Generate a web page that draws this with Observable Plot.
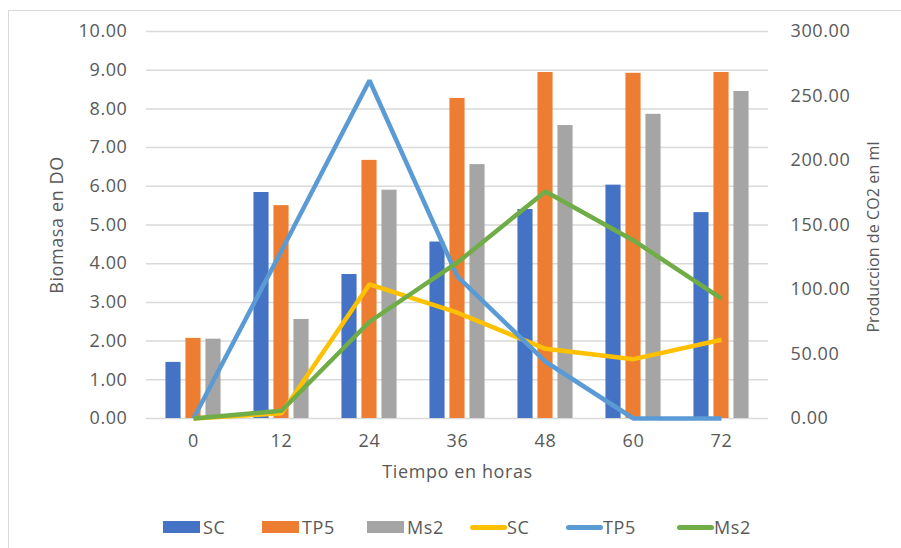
<!DOCTYPE html>
<html>
<head>
<meta charset="utf-8">
<script src="https://cdn.jsdelivr.net/npm/d3@7"></script>
<script src="https://cdn.jsdelivr.net/npm/@observablehq/plot@0.6"></script>
<style>
  html, body { margin: 0; padding: 0; background: #fff; overflow: hidden; }
  body { width: 901px; height: 548px; position: relative; font-family: "Open Sans", sans-serif; }
  #frame { position: absolute; left: 8px; top: 10px; width: 1000px; height: 1000px;
           border-left: 1.5px solid #d9d9d9; border-top: 1.5px solid #d9d9d9; }
  #chart { position: absolute; left: 0; top: 0; }
  #legend { position: absolute; left: 0; top: 515px; width: 901px; height: 24px; }
  .item { position: absolute; top: 0; display: flex; align-items: center; height: 24px;
          color: #595959; font-size: 18px; letter-spacing: 0.6px; }
  .sw { display: inline-block; }
</style>
</head>
<body>
<div id="frame"></div>
<div id="chart"></div>
<div id="legend"></div>
<script>
const hours = [0, 12, 24, 36, 48, 60, 72];
const biomasaSC  = [1.45, 5.84, 3.72, 4.56, 5.40, 6.03, 5.32];
const biomasaTP5 = [2.07, 5.50, 6.67, 8.27, 8.94, 8.92, 8.94];
const biomasaMs2 = [2.05, 2.56, 5.90, 6.56, 7.57, 7.86, 8.45];
const co2SC  = [0, 4, 104, 82, 54, 46, 61];
const co2TP5 = [0, 130, 262, 110, 44, 0, 0];
const co2Ms2 = [0, 6, 75, 121, 176, 138, 93];
const leftTicks = [0, 1, 2, 3, 4, 5, 6, 7, 8, 9, 10];
const rightTicks = [0, 50, 100, 150, 200, 250, 300];
const titleLeft = "Biomasa en DO";
const titleRight = "Produccion de CO2 en ml";
const titleX = "Tiempo en horas";

const barSeries = [
  {name: "SC", values: biomasaSC, color: "#4472C4"},
  {name: "TP5", values: biomasaTP5, color: "#ED7D31"},
  {name: "Ms2", values: biomasaMs2, color: "#A5A5A5"}
];
const lineSeries = [
  {name: "SC", values: co2SC, color: "#FFC000"},
  {name: "TP5", values: co2TP5, color: "#5B9BD5"},
  {name: "Ms2", values: co2Ms2, color: "#70AD47"}
];
const ratio = 30; // right axis max 300 vs left max 10

const W = 901, H = 490, mL = 146, mR = 133, mT = 31, mB = 72;
const band = (W - mL - mR) / hours.length;
const barW = 16, gap = 4, outer = (band - (3 * barW + 2 * gap)) / 2;

const marks = [
  Plot.gridY(leftTicks, {stroke: "#d9d9d9", strokeOpacity: 1, strokeWidth: 1.5})
];
barSeries.forEach((s, i) => {
  const data = hours.map((h, j) => ({h, v: s.values[j]}));
  const l = outer + i * (barW + gap);
  marks.push(Plot.barY(data, {x: "h", y: "v", fill: s.color,
    insetLeft: l, insetRight: band - l - barW}));
});
lineSeries.forEach(s => {
  const data = hours.map((h, j) => ({h, v: s.values[j] / ratio}));
  marks.push(Plot.line(data, {x: "h", y: "v", stroke: s.color, strokeWidth: 4.5,
    strokeLinejoin: "miter", strokeLinecap: "butt"}));
});
marks.push(
  Plot.axisY(leftTicks, {anchor: "left", tickSize: 0, tickPadding: 19,
    tickFormat: d => d.toFixed(2), label: null, fontSize: 18}),
  Plot.axisY(rightTicks.map(d => d / ratio), {anchor: "right", tickSize: 0, tickPadding: 22,
    tickFormat: d => (d * ratio).toFixed(2), label: null, fontSize: 18}),
  Plot.axisX({anchor: "bottom", tickSize: 0, tickPadding: 16, label: null, fontSize: 18}),
  Plot.text([titleLeft], {frameAnchor: "left", text: d => d, rotate: -90, dx: -89,
    textAnchor: "middle", lineAnchor: "middle", fontSize: 18, fill: "#595959"}),
  Plot.text([titleRight], {frameAnchor: "right", text: d => d, rotate: -90, dx: 105, dy: 12,
    textAnchor: "middle", lineAnchor: "middle", fontSize: 16, fill: "#595959", className: "rtitle"}),
  Plot.text([titleX], {frameAnchor: "bottom", text: d => d, dy: 54,
    textAnchor: "middle", lineAnchor: "middle", fontSize: 18, fill: "#595959"})
);

const chart = Plot.plot({
  width: W, height: H,
  marginLeft: mL, marginRight: mR, marginTop: mT, marginBottom: mB,
  style: {fontFamily: "'Open Sans', sans-serif", fontSize: "18px", color: "#595959", background: "transparent"},
  x: {type: "band", domain: hours, padding: 0, label: null},
  y: {domain: [0, 10], label: null},
  marks
});
chart.querySelectorAll("text").forEach(t => t.setAttribute("letter-spacing", "0.6"));
chart.querySelectorAll(".rtitle text").forEach(t => t.setAttribute("letter-spacing", "0.1"));
document.getElementById("chart").appendChild(chart);

// legend
const legend = document.getElementById("legend");
const items = [
  ...barSeries.map(s => ({...s, kind: "bar"})),
  ...lineSeries.map(s => ({...s, kind: "line"}))
];
const positions = [163, 262, 367, 470, 566, 677];
items.forEach((it, i) => {
  const d = document.createElement("div");
  d.className = "item";
  d.style.left = positions[i] + "px";
  const sw = document.createElement("span");
  sw.className = "sw";
  sw.style.width = "37px";
  sw.style.height = it.kind === "bar" ? "12px" : "5px";
  sw.style.borderRadius = it.kind === "bar" ? "0" : "3px";
  sw.style.background = it.color;
  sw.style.marginRight = it.kind === "bar" ? "3px" : "0px";
  d.appendChild(sw);
  const t = document.createElement("span");
  t.textContent = it.name;
  d.appendChild(t);
  legend.appendChild(d);
});
</script>
</body>
</html>
